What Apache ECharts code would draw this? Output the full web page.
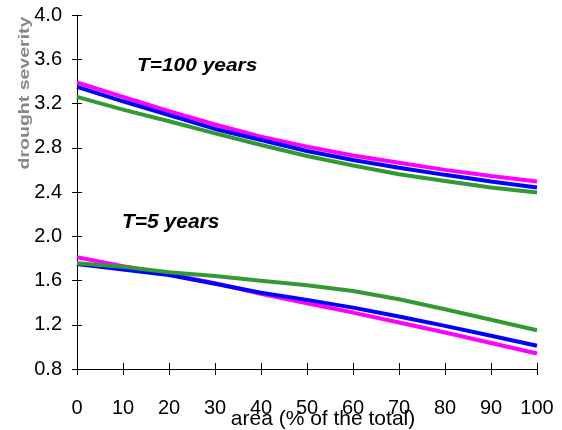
<!DOCTYPE html>
<html>
<head>
<meta charset="utf-8">
<script src="https://cdn.jsdelivr.net/npm/echarts@6/dist/echarts.min.js"></script>
<style>
  html, body { margin: 0; padding: 0; background: #fff; }
  #chart { width: 562px; height: 430px; }
</style>
</head>
<body>
<div id="chart"></div>
<script>
// Area share (% of the total)
const areaPct = [0, 10, 20, 30, 40, 50, 60, 70, 80, 90, 100];

// Return period T = 100 years
const t100Magenta = [3.39, 3.26, 3.13, 3.01, 2.90, 2.81, 2.73, 2.665, 2.60, 2.545, 2.495];
const t100Blue    = [3.35, 3.22, 3.095, 2.97, 2.87, 2.77, 2.69, 2.62, 2.555, 2.495, 2.44];
const t100Green   = [3.26, 3.145, 3.04, 2.93, 2.825, 2.725, 2.64, 2.56, 2.50, 2.44, 2.395];

// Return period T = 5 years
const t5Magenta = [1.81, 1.73, 1.66, 1.575, 1.48, 1.395, 1.31, 1.22, 1.13, 1.035, 0.94];
const t5Blue    = [1.75, 1.70, 1.65, 1.57, 1.49, 1.425, 1.355, 1.275, 1.19, 1.10, 1.01];
const t5Green   = [1.755, 1.725, 1.675, 1.64, 1.598, 1.558, 1.505, 1.43, 1.34, 1.245, 1.15];

const yTicks = { min: 0.8, max: 4.0, interval: 0.4 };
const xTicks = { min: 0, max: 100, interval: 10 };

const FONT = '"Liberation Sans", Arial, sans-serif';
const MAGENTA = '#ff00ff', BLUE = '#0000ff', GREEN = '#339933';

const pairs = ys => areaPct.map((x, i) => [x, ys[i]]);
const line = (ys, color) => ({
  type: 'line', data: pairs(ys), xAxisIndex: 0, yAxisIndex: 0,
  symbol: 'none', smooth: false, silent: true,
  lineStyle: { color, width: 4 }
});

const chart = echarts.init(document.getElementById('chart'), null, { renderer: 'canvas' });

const baseX = {
  type: 'value', min: xTicks.min, max: xTicks.max, interval: xTicks.interval,
  splitLine: { show: false }
};
const baseY = {
  type: 'value', min: yTicks.min, max: yTicks.max, interval: yTicks.interval,
  splitLine: { show: false }
};

chart.setOption({
  animation: false,
  backgroundColor: '#fff',
  grid: { left: 77, right: 25, top: 15, bottom: 61, containLabel: false },
  xAxis: [
    Object.assign({}, baseX, {
      axisLine: { show: true, onZero: false, lineStyle: { color: '#000', width: 1 } },
      axisTick: { show: true, inside: false, length: 6, lineStyle: { color: '#000' } },
      axisLabel: { show: true, margin: 29, color: '#000', fontSize: 20, fontFamily: FONT }
    }),
    Object.assign({}, baseX, {
      position: 'bottom',
      axisLine: { show: false, onZero: false },
      axisTick: { show: true, inside: true, length: 6, lineStyle: { color: '#000' } },
      axisLabel: { show: false }
    })
  ],
  yAxis: [
    Object.assign({}, baseY, {
      axisLine: { show: true, onZero: false, lineStyle: { color: '#000', width: 1 } },
      axisTick: { show: true, inside: false, length: 5, lineStyle: { color: '#000' } },
      axisLabel: {
        show: true, margin: 15, color: '#000', fontSize: 20, fontFamily: FONT,
        formatter: v => v.toFixed(1)
      }
    }),
    Object.assign({}, baseY, {
      position: 'left',
      axisLine: { show: false, onZero: false },
      axisTick: { show: true, inside: true, length: 5, lineStyle: { color: '#000' } },
      axisLabel: { show: false }
    })
  ],
  series: [
    line(t100Magenta, MAGENTA),
    line(t100Blue, BLUE),
    line(t100Green, GREEN),
    line(t5Magenta, MAGENTA),
    line(t5Blue, BLUE),
    line(t5Green, GREEN)
  ],
  graphic: [
    {
      type: 'text', x: 25, y: 93, rotation: Math.PI / 2, scaleX: 1.3, scaleY: 1,
      style: {
        text: 'drought severity', fill: '#7a7a7a',
        font: 'bold 15px ' + FONT, align: 'center', verticalAlign: 'middle',
        opacity: 0.9
      }
    },
    {
      type: 'text', x: 323, y: 419,
      style: {
        text: 'area (% of the total)', fill: '#000',
        font: '21px ' + FONT, align: 'center', verticalAlign: 'middle'
      }
    },
    {
      type: 'text', x: 137, y: 66, scaleX: 1.1,
      style: {
        text: 'T=100 years', fill: '#000',
        font: 'italic bold 19px ' + FONT, align: 'left', verticalAlign: 'middle'
      }
    },
    {
      type: 'text', x: 122, y: 222, scaleX: 1.05,
      style: {
        text: 'T=5 years', fill: '#000',
        font: 'italic bold 20px ' + FONT, align: 'left', verticalAlign: 'middle'
      }
    }
  ]
});
</script>
</body>
</html>
